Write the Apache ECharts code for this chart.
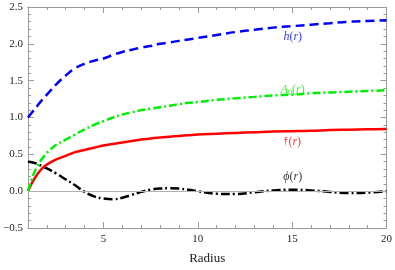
<!DOCTYPE html>
<html><head><meta charset="utf-8">
<script src="https://cdn.jsdelivr.net/npm/echarts@6/dist/echarts.min.js"></script>
<style>html,body{margin:0;padding:0;background:#fff}#c{width:395px;height:270px}</style>
</head><body><div id="c"></div>
<script>
const r   = [1,1.25,1.5,1.75,2,2.5,3,3.5,4,4.5,5,5.5,6,6.5,7,7.5,8,8.5,9,9.5,10,11,12,13,14,15,16,17,18,19,20];
const hVals  = [1.0,1.08,1.16,1.24,1.31,1.45,1.57,1.67,1.73,1.77,1.80,1.85,1.89,1.92,1.95,1.97,2.0,2.02,2.04,2.06,2.08,2.12,2.16,2.19,2.22,2.24,2.26,2.28,2.30,2.31,2.32];
const a0Vals = [0,0.2,0.34,0.44,0.52,0.63,0.70,0.77,0.84,0.90,0.95,1.00,1.04,1.07,1.10,1.12,1.14,1.16,1.18,1.20,1.21,1.24,1.26,1.28,1.30,1.31,1.33,1.34,1.35,1.36,1.37];
const fVals  = [0,0.13,0.23,0.31,0.36,0.43,0.48,0.53,0.56,0.59,0.62,0.64,0.66,0.68,0.70,0.715,0.73,0.74,0.75,0.76,0.77,0.78,0.79,0.80,0.81,0.815,0.82,0.83,0.835,0.84,0.845];
const phiVals= [0.40,0.39,0.37,0.34,0.31,0.24,0.16,0.08,-0.01,-0.07,-0.10,-0.11,-0.09,-0.05,-0.01,0.02,0.035,0.04,0.035,0.02,0.0,-0.035,-0.04,-0.015,0.01,0.02,0.01,-0.01,-0.025,-0.02,0.0];
const xMajor = [5,10,15,20];
const labelR = 15.03;
const labels = [
  {key:'h', y:2.095, text:'{i|h}{n|(}{i|r}{n|)}', color:'#0000ff'},
  {key:'a', y:1.38, text:'{i|A}{s|0}{n|(}{i|r}{n|)}', color:'#00ee00'},
  {key:'f', y:0.676, text:'{n|𝔣(}{i|r}{n|)}', color:'#ff0000'},
  {key:'p', y:0.19, text:'{i|ϕ}{n|(}{i|r}{n|)}', color:'#000000'}
];
const toPairs = v => r.map((x,i)=>[x,v[i]]);
const frame = '#9a9a9a';
const font = 'Liberation Serif';
function xAx(pos, major, showLabel){
  return {type:'value', position:pos, min:1, max:20, interval:1,
    axisLine:{show:true, onZero:false, lineStyle:{color:frame, width:1}},
    axisTick:major?{show:true, inside:true, length:6, customValues:xMajor, lineStyle:{color:frame}}
                  :{show:true, inside:true, length:3, lineStyle:{color:frame}},
    axisLabel:showLabel?{show:true, customValues:xMajor, color:'#222', fontFamily:font, fontSize:11, margin:6}:{show:false},
    splitLine:{show:false},
    name: showLabel?'Radius':'', nameLocation:'middle', nameGap:24,
    nameTextStyle:{fontFamily:font, fontSize:13, color:'#222'}};
}
function yAx(pos, showLabel){
  return {type:'value', position:pos, min:-0.5, max:2.5, interval:0.5,
    axisLine:{show:true, onZero:false, lineStyle:{color:frame, width:1}},
    axisTick:{show:true, inside:true, length:6, lineStyle:{color:frame}},
    minorTick:{show:true, splitNumber:5, length:3, lineStyle:{color:frame}},
    axisLabel:showLabel?{show:true, color:'#222', fontFamily:font, fontSize:11, margin:5,
       formatter:v=>v.toFixed(1).replace('-','−')}:{show:false},
    splitLine:{show:false}};
}
const rich = c => ({i:{fontFamily:font, fontStyle:'italic', fontSize:12, color:c},
                    n:{fontFamily:font, fontSize:12, color:c},
                    s:{fontFamily:font, fontSize:8, color:c, verticalAlign:'bottom', padding:[6,0,0,0]}});
const chart = echarts.init(document.getElementById('c'), null, {renderer:'canvas'});
chart.setOption({
  animation:false,
  grid:{left:27, right:7, top:7, bottom:41, containLabel:false},
  xAxis:[xAx('bottom',false,true), xAx('bottom',true,false), xAx('top',false,false), xAx('top',true,false)],
  yAxis:[yAx('left',true), yAx('right',false)],
  series:[
    {type:'line', data:toPairs(phiVals), smooth:0.4, symbol:'none', z:3,
     lineStyle:{color:'#000', width:2.5, type:[9,3,2,3]},
     markLine:{silent:true, symbol:'none', label:{show:false}, lineStyle:{color:'#b0b0b0', width:1, type:'solid'}, data:[{yAxis:0}]}},
    {type:'line', data:toPairs(fVals), smooth:0.4, symbol:'none', z:4, lineStyle:{color:'#ff0000', width:2.5, type:'solid'}},
    {type:'line', data:toPairs(a0Vals), smooth:0.4, symbol:'none', z:5, lineStyle:{color:'#00ee00', width:2.5, type:[8,3,2,3]}},
    {type:'line', data:toPairs(hVals), smooth:0.4, symbol:'none', z:6, lineStyle:{color:'#0000ff', width:2.5, type:[9,5]}},
    ...labels.map(l=>({type:'scatter', symbolSize:0, z:10, silent:true, data:[[labelR,l.y]],
      label:{show:true, position:'inside', formatter:l.text, rich:rich(l.color)}}))
  ]
});
</script></body></html>
